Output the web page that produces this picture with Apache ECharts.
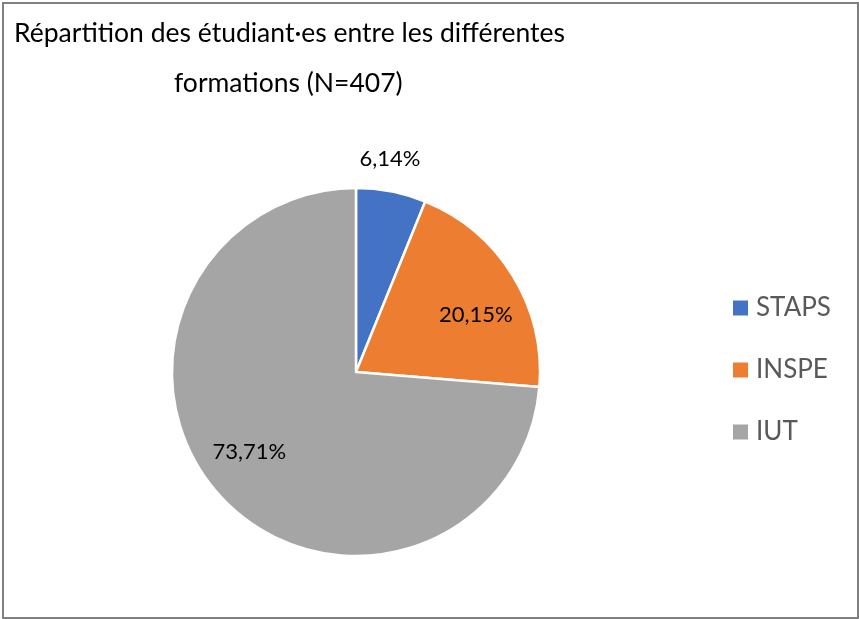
<!DOCTYPE html>
<html>
<head>
<meta charset="utf-8">
<script src="https://cdn.jsdelivr.net/npm/echarts@6/dist/echarts.min.js"></script>
<style>
  html, body { margin: 0; padding: 0; background: #fff; }
  #main { position: absolute; left: 0; top: 0; width: 859px; height: 619px; }
  #frame { position: absolute; left: 2px; top: 2px; width: 853px; height: 613px;
           border: 2px solid #808080; pointer-events: none; }
</style>
</head>
<body>
<div id="main"></div>
<div id="frame"></div>
<script>
// effectifs par formation (N=407)
const formations = ['STAPS', 'INSPE', 'IUT'];
const effectifs = [25, 82, 300];
const couleurs = ['#4472C4', '#ED7D31', '#A5A5A5'];

const total = effectifs.reduce((a, b) => a + b, 0);
const pct = v => (v / total * 100).toFixed(2).replace('.', ',') + '%';

let myChart = echarts.init(document.getElementById('main'));
const center = [356, 372];

const labelStyle = {
    color: '#000',
    fontSize: 22,
    fontFamily: 'Lato',
    formatter: p => pct(p.value)
};

// série transparente pour placer les étiquettes plus loin du centre
function labelSeries(radius, startAngle, names) {
    return {
        type: 'pie',
        silent: true,
        center,
        radius: [0, radius],
        startAngle,
        itemStyle: { color: 'rgba(0,0,0,0)' },
        emphasis: { disabled: true },
        labelLine: { show: false },
        label: Object.assign({ position: 'inside' }, labelStyle),
        data: formations.map((name, i) => ({
            name,
            value: effectifs[i],
            label: { show: names.indexOf(name) >= 0 }
        })),
        z: 3
    };
}

const titleStyle = { color: '#000', fontSize: 26.5, fontWeight: 'normal', fontFamily: 'Lato' };

myChart.setOption({
    animation: false,
    backgroundColor: '#fff',
    title: [{
        text: 'Répartition des étudiant·es entre les différentes',
        left: 9,
        top: 15,
        textStyle: titleStyle
    }, {
        text: 'formations (N=407)',
        left: 169,
        top: 65,
        textStyle: titleStyle
    }],
    legend: {
        orient: 'vertical',
        left: 726,
        top: 290,
        itemWidth: 17,
        itemHeight: 17,
        itemGap: 36,
        icon: 'rect',
        data: formations,
        textStyle: { color: '#595959', fontSize: 26, fontFamily: 'Lato', padding: [0, 0, 0, 2] }
    },
    series: [{
        type: 'pie',
        center,
        radius: [0, 184],
        startAngle: 90,
        label: { show: false },
        labelLine: { show: false },
        emphasis: { scale: false },
        itemStyle: { borderColor: '#fff', borderWidth: 2.5 },
        data: formations.map((name, i) => ({
            name,
            value: effectifs[i],
            itemStyle: { color: couleurs[i] }
        }))
    },
    labelSeries(260, 84, ['INSPE', 'IUT']),
    labelSeries(426, 92, ['STAPS'])]
});
</script>
</body>
</html>
